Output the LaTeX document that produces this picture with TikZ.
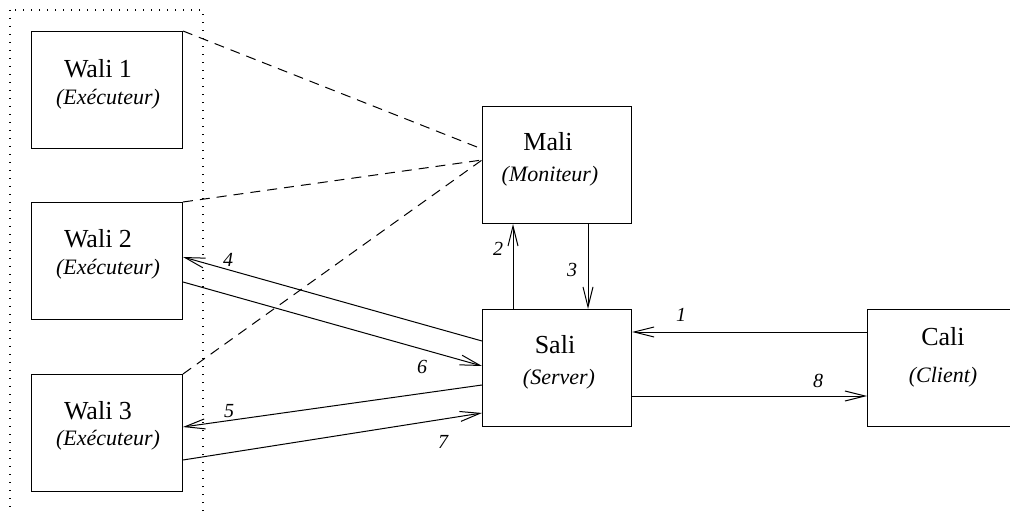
\documentclass[tikz,border=0pt]{standalone}
\usepackage{fontspec}
\setmainfont{Liberation Serif}
\usetikzlibrary{arrows.meta,calc}

\begin{document}
\begin{tikzpicture}[x=1pt,y=-1pt,
  box/.style={draw, line width=1pt, minimum width=150pt, minimum height=117pt,
              inner sep=0pt, anchor=north west},
  title/.style={anchor=base, inner sep=0pt, font=\fontsize{26}{26}\selectfont},
  role/.style={anchor=base, inner sep=0pt, font=\fontsize{22}{22}\selectfont\itshape},
  num/.style={anchor=base, inner sep=0pt, font=\fontsize{20}{20}\selectfont\itshape},
  msg/.style={line width=1pt, -{Straight Barb[length=20pt,width=10pt,line width=1pt]}},
  link/.style={line width=1pt, dash pattern=on 10pt off 7pt},
  group/.style={line width=1.1pt, dash pattern=on 1.3pt off 6.7pt}]

\useasboundingbox (0,0) rectangle (1010,513);
\clip (0,0) rectangle (1010,513);

% executor group
\draw[group] (10,10) rectangle (203,560);

% boxes
\node[box, minimum width=151pt] (w1) at (31,31)  {};
\node[box, minimum width=151pt] (w2) at (31,202) {};
\node[box, minimum width=151pt] (w3) at (31,374) {};
\node[box, minimum width=149pt] (mali) at (482,106) {};
\node[box, minimum width=149pt] (sali) at (482,309) {};
\node[box, minimum width=150pt] (cali) at (867,309) {};

% box texts
\node[title] (w1t) at ($(w1.north west)+(67,47)$) {Wali 1};
\node[role]  (w1r) at ($(w1.north west)+(77,74)$) {(Exécuteur)};
\node[title] (w2t) at ($(w2.north west)+(67,46)$) {Wali 2};
\node[role]  (w2r) at ($(w2.north west)+(77,73)$) {(Exécuteur)};
\node[title] (w3t) at ($(w3.north west)+(67,45)$) {Wali 3};
\node[role]  (w3r) at ($(w3.north west)+(77,71)$) {(Exécuteur)};
\node[title] (malit) at ($(mali.north west)+(66,45)$) {Mali};
\node[role]  (malir) at ($(mali.north west)+(68,76)$) {(Moniteur)};
\node[title] (salit) at ($(sali.north west)+(73,44)$) {Sali};
\node[role]  (salir) at ($(sali.north west)+(77,75)$) {(Server)};
\node[title] (calit) at ($(cali.north west)+(76,36)$) {Cali};
\node[role]  (calir) at ($(cali.north west)+(76,73)$) {(Client)};

% monitoring links
\draw[link] (w1.north east) -- ($(mali.north west)+(0,43)$);
\draw[link] (w2.north east) -- ($(mali.north west)+(0,54)$);
\draw[link] (w3.north east) -- ($(mali.north west)+(0,54)$);

% messages
\draw[msg] ($(cali.north west)+(0,23)$) -- ($(sali.north east)+(0,23)$);
\draw[msg] ($(sali.north west)+(31,0)$) -- ($(mali.south west)+(31,0)$);
\draw[msg] ($(mali.south west)+(106,0)$) -- ($(sali.north west)+(106,0)$);
\draw[msg] ($(sali.north west)+(0,32)$) -- ($(w2.north east)+(0,55)$);
\draw[msg] ($(sali.north west)+(0,76)$) -- ($(w3.north east)+(0,53)$);
\draw[msg] ($(w2.north east)+(0,80)$) -- ($(sali.north west)+(0,57)$);
\draw[msg] ($(w3.north east)+(0,86)$) -- ($(sali.north west)+(0,104)$);
\draw[msg] ($(sali.north east)+(0,87)$) -- ($(cali.north west)+(0,87)$);

% message numbers
\node[num] (n1) at (681,321) {1};
\node[num] (n2) at (498,256) {2};
\node[num] (n3) at (572,277) {3};
\node[num] (n4) at (228,267) {4};
\node[num] (n5) at (229,417) {5};
\node[num] (n6) at (422,373) {6};
\node[num] (n7) at (443,448) {7};
\node[num] (n8) at (818,387) {8};
\end{tikzpicture}
\end{document}
